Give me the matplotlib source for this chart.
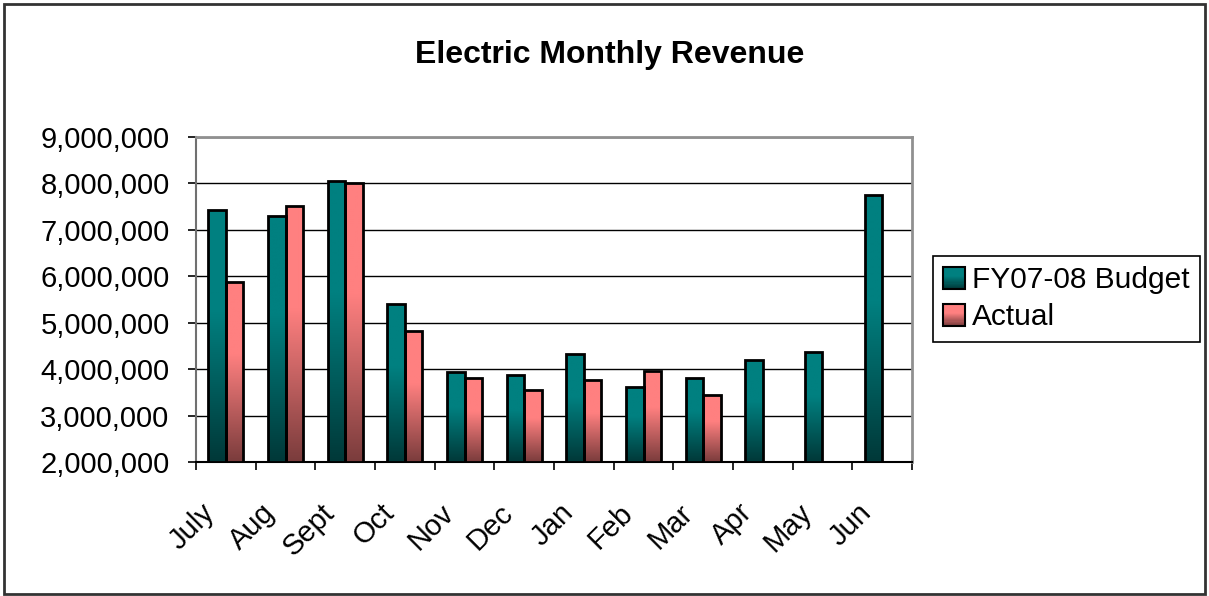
import matplotlib
matplotlib.use("Agg")
import matplotlib.pyplot as plt
import numpy as np
from matplotlib.patches import Rectangle
from matplotlib.legend_handler import HandlerBase
from matplotlib.ticker import FuncFormatter, FixedLocator
from matplotlib.transforms import ScaledTranslation

months = ["July", "Aug", "Sept", "Oct", "Nov", "Dec", "Jan", "Feb", "Mar", "Apr", "May", "Jun"]
budget = [7430000, 7300000, 8060000, 5410000, 3940000, 3870000, 4320000, 3620000, 3800000, 4190000, 4360000, 7760000]
actual = [5870000, 7510000, 8010000, 4820000, 3800000, 3560000, 3760000, 3960000, 3450000, None, None, None]
series_names = ["FY07-08 Budget", "Actual"]

plt.rcParams['font.family'] = ['Liberation Sans', 'DejaVu Sans']

teal_top = np.array([0, 128, 128]) / 255
teal_bot = np.array([0, 56, 56]) / 255
pink_top = np.array([255, 128, 128]) / 255
pink_bot = np.array([122, 60, 60]) / 255


def grad_array(top, bot, n=256):
    t = np.linspace(0, 1, n)
    k = np.clip((t - 0.4) / 0.6, 0, 1)
    cols = top[None, :] * (1 - k[:, None]) + bot[None, :] * k[:, None]
    return cols[:, None, :]


fig = plt.figure(figsize=(12.09, 5.96), dpi=100)
ax = fig.add_axes([196 / 1209, 1 - 462 / 596, (912 - 196) / 1209, (462 - 137) / 596])

x = np.arange(len(months))
w = 0.295
ymin = 2000000

for vals, off, top, bot in [(budget, -w / 2, teal_top, teal_bot), (actual, w / 2, pink_top, pink_bot)]:
    for xi, v in zip(x, vals):
        if v is None:
            continue
        bars = ax.bar(xi + off, v - ymin, w, bottom=ymin, facecolor='none',
                      edgecolor='black', linewidth=2.0, zorder=4)
        p = bars[0]
        im = ax.imshow(grad_array(top, bot), extent=[xi + off - w / 2, xi + off + w / 2, ymin, v],
                       aspect='auto', origin='upper', zorder=3, interpolation='bilinear')
        im.set_clip_path(p)

ax.set_xlim(-0.5, len(months) - 0.5)
ax.set_ylim(2000000, 9000000)
ax.set_yticks(np.arange(2000000, 9000001, 1000000))
ax.yaxis.set_major_formatter(FuncFormatter(lambda v, p: f"{int(v):,}"))
ax.grid(axis='y', color='black', linewidth=1.0, zorder=1)
ax.set_axisbelow(True)

ax.xaxis.set_major_locator(FixedLocator(np.arange(-0.5, len(months), 1.0)))
ax.xaxis.set_major_formatter(plt.NullFormatter())
ax.xaxis.set_minor_locator(FixedLocator(x))
ax.set_xticklabels(months, minor=True, rotation=45, ha='right', va='top',
                   rotation_mode='anchor', fontsize=21)
ax.tick_params(axis='x', which='minor', length=0, pad=14)
ax.tick_params(axis='x', which='major', length=6, width=1.2, direction='out', color='black')
ax.tick_params(axis='y', length=6, width=1.2, direction='out', labelsize=21, pad=13, color='black')

offset = ScaledTranslation(-25 / 100, -17 / 100, fig.dpi_scale_trans)
for lbl in ax.get_xticklabels(minor=True):
    lbl.set_transform(lbl.get_transform() + offset)

for s in ['top', 'right']:
    ax.spines[s].set_color('#909090')
    ax.spines[s].set_linewidth(2)
ax.spines['left'].set_color('#707070')
ax.spines['left'].set_linewidth(1.5)
ax.spines['bottom'].set_color('black')
ax.spines['bottom'].set_linewidth(1.5)

fig.text(610 / 1209, 1 - 55 / 596, "Electric Monthly Revenue", ha='center', va='center',
         fontsize=23, fontweight='bold')


class GradHandler(HandlerBase):
    def __init__(self, top, bot):
        super().__init__()
        self.top, self.bot = top, bot

    def create_artists(self, legend, orig_handle, xdescent, ydescent, width, height, fontsize, trans):
        arts = []
        s = height * 1.0
        x0 = -xdescent
        y0 = -ydescent + (height - s) / 2
        n = 20
        g = grad_array(self.top, self.bot, n)
        for i in range(n):
            r = Rectangle((x0, y0 + s - (i + 1) * s / n), s, s / n, facecolor=g[i, 0], edgecolor='none',
                          transform=trans)
            arts.append(r)
        arts.append(Rectangle((x0, y0), s, s, facecolor='none', edgecolor='black', linewidth=1.5,
                              transform=trans))
        return arts


h1 = Rectangle((0, 0), 1, 1)
h2 = Rectangle((0, 0), 1, 1)
leg = fig.legend([h1, h2], series_names, loc='upper left',
                 bbox_to_anchor=(933 / 1209, 1 - 256 / 596),
                 handler_map={h1: GradHandler(teal_top, teal_bot), h2: GradHandler(pink_top, pink_bot)},
                 fontsize=21.5, frameon=True, fancybox=False, edgecolor='black', framealpha=1,
                 handlelength=0.75, handleheight=0.75, handletextpad=0.2, borderpad=0.35,
                 labelspacing=0.3, borderaxespad=0)
leg.get_frame().set_linewidth(1.2)

fig.add_artist(Rectangle((3.5 / 1209, 1 - 594 / 596), (1205 - 3.5) / 1209, (594 - 4) / 596,
                         transform=fig.transFigure, facecolor='none', edgecolor='#333333',
                         linewidth=2))

fig.savefig("out.png", dpi=100)
